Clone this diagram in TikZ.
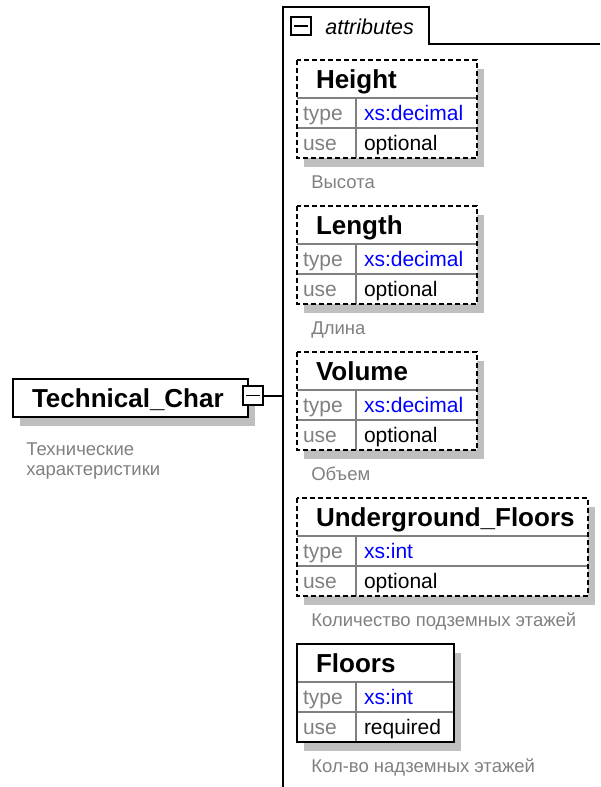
\documentclass[tikz,border=0pt]{standalone}
\usepackage{fontspec}
\setmainfont{Liberation Sans}

\begin{document}
\begin{tikzpicture}[x=1pt, y=-1pt,
    every node/.style={anchor=north west, inner ysep=0pt, outer sep=0pt},
    shadowbox/.style={fill=black!25, minimum width=#1, minimum height=98pt, inner sep=0pt},
    namecell/.style={font=\fontsize{26}{30}\selectfont\bfseries, fill=white, inner xsep=19pt, text width=#1, minimum height=38pt, text height=19pt, text depth=0pt},
    keycell/.style={font=\fontsize{21}{24}\selectfont, text=black!50, fill=white, inner xsep=6pt, text width=47pt, minimum height=30pt, text height=15pt, text depth=0pt},
    valcell/.style={font=\fontsize{21}{24}\selectfont, fill=white, inner xsep=8pt, text width=#1, minimum height=30pt, text height=15pt, text depth=0pt},
    typecell/.style={valcell=#1, text=blue},
    divline/.style={draw=black!50, line width=1.2pt},
    optbox/.style={draw, line width=2pt, dash pattern=on 5pt off 3pt},
    reqbox/.style={draw, line width=2pt},
    desc/.style={font=\fontsize{18.5}{19.5}\selectfont, text=black!50, anchor=base west},
    icon/.style={draw, fill=white, line width=1.5pt, minimum width=20pt, minimum height=19pt, inner sep=0pt},
    minus/.style={line width=1.5pt},
    tabline/.style={line width=2pt}]
    \useasboundingbox (0,0) rectangle (600,787);

    % attributes container
    \coordinate (cTop) at (283,7);
    \coordinate (cBot) at (283,787);
    \draw[tabline] (cBot) -- (cTop) -| (429,44) -- (600,44);
    \node[icon, minimum height=18pt] (Am) at (291,17) {};
    \draw[minus] ([xshift=3pt]Am.west) -- ([xshift=-3pt]Am.east);
    \node[anchor=west, font=\fontsize{21.5}{24}\selectfont\itshape] (A) at (322,27) {attributes};

    % Technical_Char
    \node[shadowbox=235pt, minimum height=38pt] (TCs) at (20,388) {};
    \node[namecell=197pt, reqbox] (TC) at (13,379) {Technical\_Char};
    \node[icon] (TCm) at (243,386) {};
    \draw[minus] ([xshift=3pt]TCm.west) -- ([xshift=-3pt]TCm.east);
    \draw[tabline] (TCm.east) -- (TCm.east -| cTop);
    \node[desc, anchor=north west, align=left] (TCd) at (23,443) {Технические\\характеристики};

    % Height
    \node[shadowbox=180pt] (Hs) at (304,69) {};
    \node[namecell=142pt] (H) at (297,60) {Height};
    \node[keycell] (Ht) at (297,98) {type};
    \node[typecell=105pt] (Htv) at (356,98) {xs:decimal};
    \node[keycell] (Hu) at (297,128) {use};
    \node[valcell=105pt] (Huv) at (356,128) {optional};
    \draw[divline] (Ht.north west) -- (Htv.north east) (Hu.north west) -- (Huv.north east) (Ht.north east) -- (Hu.south east);
    \draw[optbox] (H.north west) rectangle (Huv.south east);
    \node[desc] (Hd) at (308,188) {Высота};

    % Length
    \node[shadowbox=180pt] (Ls) at (304,215) {};
    \node[namecell=142pt] (L) at (297,206) {Length};
    \node[keycell] (Lt) at (297,244) {type};
    \node[typecell=105pt] (Ltv) at (356,244) {xs:decimal};
    \node[keycell] (Lu) at (297,274) {use};
    \node[valcell=105pt] (Luv) at (356,274) {optional};
    \draw[divline] (Lt.north west) -- (Ltv.north east) (Lu.north west) -- (Luv.north east) (Lt.north east) -- (Lu.south east);
    \draw[optbox] (L.north west) rectangle (Luv.south east);
    \node[desc] (Ld) at (308,334) {Длина};

    % Volume
    \node[shadowbox=180pt] (Vs) at (304,361) {};
    \node[namecell=142pt] (V) at (297,352) {Volume};
    \node[keycell] (Vt) at (297,390) {type};
    \node[typecell=105pt] (Vtv) at (356,390) {xs:decimal};
    \node[keycell] (Vu) at (297,420) {use};
    \node[valcell=105pt] (Vuv) at (356,420) {optional};
    \draw[divline] (Vt.north west) -- (Vtv.north east) (Vu.north west) -- (Vuv.north east) (Vt.north east) -- (Vu.south east);
    \draw[optbox] (V.north west) rectangle (Vuv.south east);
    \node[desc] (Vd) at (308,480) {Объем};

    % Underground_Floors
    \node[shadowbox=291pt] (UFs) at (304,507) {};
    \node[namecell=253pt] (UF) at (297,498) {Underground\_Floors};
    \node[keycell] (UFt) at (297,536) {type};
    \node[typecell=216pt] (UFtv) at (356,536) {xs:int};
    \node[keycell] (UFu) at (297,566) {use};
    \node[valcell=216pt] (UFuv) at (356,566) {optional};
    \draw[divline] (UFt.north west) -- (UFtv.north east) (UFu.north west) -- (UFuv.north east) (UFt.north east) -- (UFu.south east);
    \draw[optbox] (UF.north west) rectangle (UFuv.south east);
    \node[desc] (UFd) at (308,626) {Количество подземных этажей};

    % Floors
    \node[shadowbox=157pt] (Fs) at (304,653) {};
    \node[namecell=119pt] (F) at (297,644) {Floors};
    \node[keycell] (Ft) at (297,682) {type};
    \node[typecell=82pt] (Ftv) at (356,682) {xs:int};
    \node[keycell] (Fu) at (297,712) {use};
    \node[valcell=82pt] (Fuv) at (356,712) {required};
    \draw[divline] (Ft.north west) -- (Ftv.north east) (Fu.north west) -- (Fuv.north east) (Ft.north east) -- (Fu.south east);
    \draw[reqbox] (F.north west) rectangle (Fuv.south east);
    \node[desc] (Fd) at (308,772) {Кол-во надземных этажей};
\end{tikzpicture}
\end{document}
